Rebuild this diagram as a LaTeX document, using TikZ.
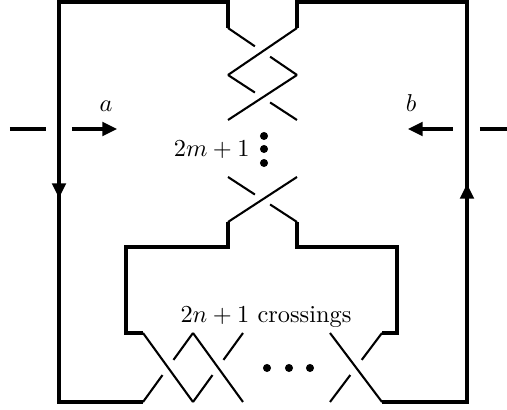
\documentclass[tikz,border=0pt]{standalone}
\usetikzlibrary{calc,arrows.meta}
\begin{document}
\begin{tikzpicture}[x=0.41pt,y=-0.41pt,
  thickline/.style={line width=1.25pt},
  strand/.style={line width=0.85pt},
  arr/.style={line width=1.25pt,-{Triangle[length=6pt,width=5.6pt]}},
  kdot/.style={fill=black,circle,inner sep=0pt,minimum size=3.3pt},
  lab/.style={inner sep=0pt}]
\useasboundingbox (0,0) rectangle (507,410);
% top braid points
\coordinate (tl) at (228,28); \coordinate (tr) at (297,28);
\coordinate (ml) at (228,75); \coordinate (mr) at (297,75);
\coordinate (bl) at (228,120); \coordinate (br) at (297,120);
\coordinate (cl) at (228,177); \coordinate (cr) at (297,177);
\coordinate (dl) at (228,222); \coordinate (dr) at (297,222);
% bottom braid points
\coordinate (t0) at (143,333); \coordinate (t1) at (193,333); \coordinate (t2) at (243,333);
\coordinate (b0) at (143,402); \coordinate (b1) at (193,402); \coordinate (b2) at (243,402);
\coordinate (t3) at (330,333); \coordinate (t4) at (382,333);
\coordinate (b3) at (330,402); \coordinate (b4) at (382,402);
% outer thick lines
\draw[thickline] (tl) -- (228,2) -- (59,2) -- (59,402) -- (b0);
\draw[thickline] (tr) -- (297,2) -- (467,2) -- (467,402) -- (b4);
\draw[thickline] (dl) -- (228,247) -- (126,247) -- (126,333) -- (t0);
\draw[thickline] (dr) -- (297,247) -- (397,247) -- (397,333) -- (t4);
% top crossings
\draw[strand] (tr) -- (ml);
\draw[strand] (tl) -- ($(tl)!0.39!(mr)$) ($(tl)!0.61!(mr)$) -- (mr);
\draw[strand] (mr) -- (bl);
\draw[strand] (ml) -- ($(ml)!0.39!(br)$) ($(ml)!0.61!(br)$) -- (br);
\draw[strand] (cr) -- (dl);
\draw[strand] (cl) -- ($(cl)!0.39!(dr)$) ($(cl)!0.61!(dr)$) -- (dr);
% bottom crossings
\draw[strand] (t0) -- (b1);
\draw[strand] (b0) -- ($(b0)!0.39!(t1)$) ($(b0)!0.61!(t1)$) -- (t1);
\draw[strand] (t1) -- (b2);
\draw[strand] (b1) -- ($(b1)!0.39!(t2)$) ($(b1)!0.61!(t2)$) -- (t2);
\draw[strand] (t3) -- (b4);
\draw[strand] (b3) -- ($(b3)!0.39!(t4)$) ($(b3)!0.61!(t4)$) -- (t4);
% dots
\node[kdot] (v1) at (264,136) {};
\node[kdot] (v2) at (264,149) {};
\node[kdot] (v3) at (264,163) {};
\node[kdot] (h1) at (267,368) {};
\node[kdot] (h2) at (289,368) {};
\node[kdot] (h3) at (310,368) {};
% arrows on strands
\coordinate (la1) at (59,180); \coordinate (la2) at (59,198);
\draw[arr] (la1) -- (la2);
\coordinate (ra1) at (467,198); \coordinate (ra2) at (467,184);
\draw[arr] (ra1) -- (ra2);
% meridian arrows
\coordinate (ad1) at (10,129); \coordinate (ad2) at (46,129);
\coordinate (aa1) at (72,129); \coordinate (aa2) at (117,129);
\draw[thickline] (ad1) -- (ad2);
\draw[arr] (aa1) -- (aa2);
\coordinate (bd1) at (480,129); \coordinate (bd2) at (507,129);
\coordinate (ba1) at (453,129); \coordinate (ba2) at (408,129);
\draw[thickline] (bd1) -- (bd2);
\draw[arr] (ba1) -- (ba2);
% labels
\node[lab,anchor=base] (la) at (106,112) {$a$};
\node[lab,anchor=base] (lb) at (411,112) {$b$};
\node[lab,anchor=base east] (lm) at (250,157) {$2m+1$};
\node[lab,anchor=base] (ln) at (266,323) {$2n+1$ crossings};
\end{tikzpicture}
\end{document}
